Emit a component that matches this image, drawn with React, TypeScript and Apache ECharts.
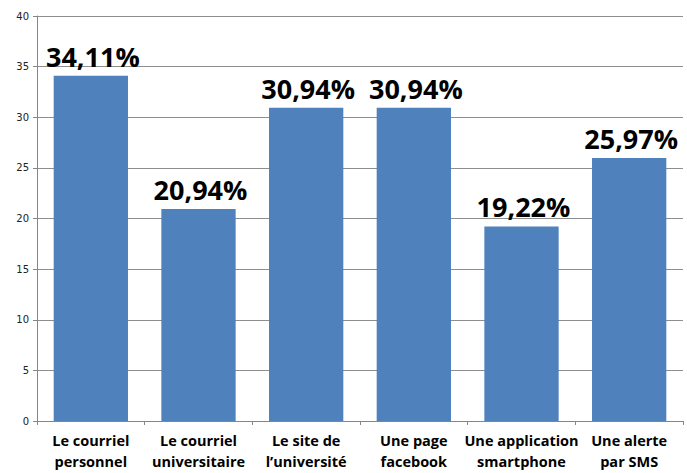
import React, { useEffect, useRef } from "react";
import * as echarts from "echarts";

const categories = [
  "Le courriel\npersonnel",
  "Le courriel\nuniversitaire",
  "Le site de\nl’université",
  "Une page\nfacebook",
  "Une application\nsmartphone",
  "Une alerte\npar SMS",
];
const values = [34.11, 20.94, 30.94, 30.94, 19.22, 25.97];

export default function App() {
  const ref = useRef<HTMLDivElement>(null);
  useEffect(() => {
    const chart = echarts.init(ref.current!, null, { renderer: "svg" });
    chart.setOption({
      animation: false,
      grid: { left: 37, right: 4, top: 16, bottom: 52, containLabel: false },
      xAxis: {
        type: "category",
        data: categories,
        axisLine: { show: true, lineStyle: { color: "#868686", width: 1 } },
        axisTick: { show: true, alignWithLabel: false, length: 4, lineStyle: { color: "#868686" } },
        axisLabel: {
          interval: 0,
          color: "#000",
          fontFamily: "Open Sans",
          fontWeight: "bold",
          fontSize: 14.5,
          lineHeight: 21,
          margin: 9,
        },
      },
      yAxis: {
        type: "value",
        min: 0,
        max: 40,
        interval: 5,
        axisLine: { show: true, lineStyle: { color: "#868686", width: 1 } },
        axisTick: { show: true, length: 4, lineStyle: { color: "#868686" } },
        axisLabel: {
          color: "#222",
          fontFamily: "DejaVu Sans",
          fontSize: 10,
          margin: 8,
        },
        splitLine: { show: true, lineStyle: { color: "#8e8e8e", width: 1 } },
      },
      series: [
        {
          type: "bar",
          data: values,
          barWidth: "69%",
          itemStyle: { color: "#4F81BD" },
          label: {
            show: true,
            position: "top",
            distance: 6,
            offset: [2, 0],
            color: "#000",
            fontFamily: "Open Sans",
            fontWeight: "bold",
            fontSize: 27,
            formatter: (p: any) => p.value.toFixed(2).replace(".", ",") + "%",
          },
        },
      ],
    });
    return () => chart.dispose();
  }, []);
  return <div ref={ref} style={{ width: 687, height: 473, position: "absolute", left: 0, top: 0 }} />;
}
